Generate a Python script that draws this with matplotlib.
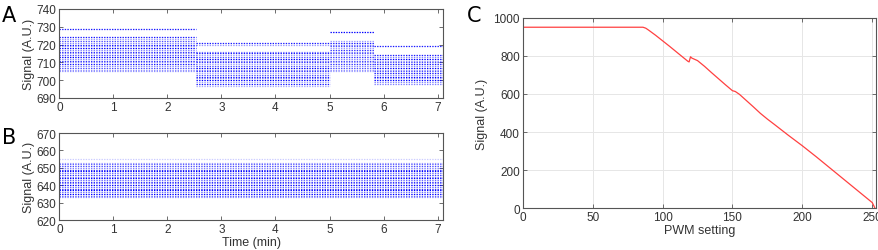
import matplotlib
matplotlib.use("Agg")
import matplotlib.pyplot as plt

plt.rcParams['font.family'] = ['Liberation Sans', 'DejaVu Sans']

# Panel A: signal levels (A.U.) seen in each time segment (min), with how dense each streak is
a_segments = [(0.0, 2.52), (2.52, 5.0), (5.0, 5.82), (5.82, 7.15)]
a_levels = [
    [729, 724, 723, 722, 721, 720, 719, 718, 717, 716, 715, 714, 713, 712, 711, 710, 709, 708, 707, 706, 705],
    [721, 720, 716, 715, 714, 713, 712, 711, 710, 709, 708, 707, 706, 705, 704, 703, 702, 701, 700, 699, 698, 697],
    [727, 722, 721, 720, 719, 718, 717, 716, 715, 714, 713, 712, 711, 710, 709, 708, 707, 706, 705],
    [719, 714, 713, 712, 711, 710, 709, 708, 707, 706, 705, 704, 703, 702, 701, 700, 699, 698],
]
a_weights = [
    [0.9, 0.9, 0.4, 0.7, 0.5, 0.9, 0.4, 1.0, 0.5, 0.8, 0.4, 0.7, 1.0, 0.5, 0.8, 0.4, 0.9, 0.5, 0.7, 0.4, 0.4],
    [0.9, 0.4, 0.5, 0.9, 0.4, 0.7, 1.0, 0.5, 0.8, 0.4, 0.7, 1.0, 0.5, 0.8, 0.4, 0.7, 0.9, 0.5, 1.0, 0.4, 0.9, 0.35],
    [1.0, 0.4, 0.9, 0.5, 0.7, 0.4, 0.8, 0.5, 0.7, 0.4, 0.8, 0.5, 0.7, 0.4, 0.8, 0.5, 0.7, 0.4, 0.35],
    [0.9, 0.9, 0.5, 1.0, 0.4, 0.7, 0.9, 0.5, 1.0, 0.4, 0.7, 0.9, 0.5, 1.0, 0.4, 1.0, 0.5, 0.5],
]

# Panel B: one long segment, stable signal
b_segments = [(0.0, 7.15)]
b_levels = [[655, 653, 652, 651, 650, 649, 648, 647, 646, 645, 644, 643, 642, 641, 640,
             639, 638, 637, 636, 635, 634, 633]]
b_weights = [[0.2, 0.35, 0.6, 0.7, 0.5, 0.8, 1.0, 0.6, 0.8, 0.5, 1.0, 0.6, 0.8, 0.5, 1.0,
              0.6, 0.8, 1.0, 0.6, 1.0, 0.6, 0.4]]

# Panel C: signal vs PWM setting
pwm = [0, 20, 40, 60, 80, 86, 88, 90, 95, 100, 105, 110, 115, 118, 119, 120, 121, 125,
       130, 135, 140, 145, 150, 152, 155, 160, 165, 170, 175, 180, 190, 200, 210, 220,
       230, 240, 250, 252]
signal = [950, 950, 950, 950, 950, 950, 945, 935, 908, 879, 850, 820, 790, 772, 768, 795,
          788, 775, 745, 712, 680, 648, 617, 613, 598, 565, 532, 498, 468, 440, 383, 328,
          270, 210, 150, 90, 30, 0]

fig = plt.figure(figsize=(8.79, 2.51), dpi=100)
edge = '#555555'


def style(ax):
    for s in ax.spines.values():
        s.set_color(edge)
        s.set_linewidth(0.8)
    ax.tick_params(direction='in', top=True, right=True, length=3, width=0.6,
                   colors=edge, labelcolor='#333333', labelsize=8.5, pad=2)


def draw_bands(ax, segments, levels, weights):
    for (t0, t1), lv, wt in zip(segments, levels, weights):
        for y, w in zip(lv, wt):
            ax.hlines(y, t0, t1, colors='#0000ff', alpha=w, linewidth=0.9,
                      linestyles=(0, (1.1, 1.0)))


axA = fig.add_axes([0.0675, 0.6056, 0.4365, 0.3546])
draw_bands(axA, a_segments, a_levels, a_weights)
axA.set_xlim(0, 7.1)
axA.set_ylim(690, 740)
axA.set_yticks([690, 700, 710, 720, 730, 740])
axA.set_xticks(range(8))
axA.set_ylabel('Signal (A.U.)', fontsize=9, color='#333333', labelpad=1)
style(axA)

axB = fig.add_axes([0.0675, 0.1195, 0.4365, 0.3466])
draw_bands(axB, b_segments, b_levels, b_weights)
axB.set_xlim(0, 7.1)
axB.set_ylim(620, 670)
axB.set_yticks([620, 630, 640, 650, 660, 670])
axB.set_xticks(range(8))
axB.set_ylabel('Signal (A.U.)', fontsize=9, color='#333333', labelpad=1)
axB.set_xlabel('Time (min)', fontsize=9, color='#333333', labelpad=1)
style(axB)

axC = fig.add_axes([0.5947, 0.1661, 0.4016, 0.7594])
axC.plot(pwm, signal, color='#ff4040', linewidth=0.9)
axC.set_xlim(0, 252.5)
axC.set_ylim(0, 1000)
axC.set_xticks([0, 50, 100, 150, 200, 250])
axC.set_yticks([0, 200, 400, 600, 800, 1000])
axC.grid(True, color='#e6e6e6', linewidth=0.7)
axC.set_axisbelow(True)
axC.set_xlabel('PWM setting', fontsize=9, color='#333333', labelpad=1)
axC.set_ylabel('Signal (A.U.)', fontsize=9, color='#333333', labelpad=4)
style(axC)

for letter, x, y in [('A', 0.002, 0.975), ('B', 0.002, 0.49), ('C', 0.531, 0.975)]:
    fig.text(x, y, letter, fontsize=15, family='DejaVu Sans', va='top', ha='left')

fig.savefig('out.png', dpi=100)
